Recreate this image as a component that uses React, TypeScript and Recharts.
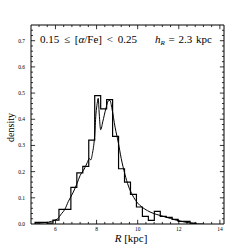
import React from "react"
import {
  ComposedChart,
  Line,
  XAxis,
  YAxis,
  ReferenceArea,
  ReferenceLine,
} from "recharts"

// histogram bins (left edges, kpc) and densities
const binEdges = [
  5.01, 5.3, 5.59, 5.88, 6.17, 6.46, 6.75, 7.04, 7.33, 7.62, 7.91, 8.2, 8.49,
  8.78, 9.07, 9.36, 9.65, 9.94, 10.23, 10.52, 10.81, 11.1, 11.39, 11.68, 11.97,
  12.26, 12.55, 12.84,
]
const binValues = [
  0.006, 0.006, 0.003, 0.015, 0.056, 0.056, 0.14, 0.195, 0.22, 0.32, 0.49, 0.44,
  0.475, 0.335, 0.211, 0.16, 0.113, 0.065, 0.029, 0.014, 0.048, 0.029, 0.025,
  0.018, 0.01, 0.01, 0.003,
]

// model curve
const modelR = [
  5.0, 5.5, 5.8, 6.1, 6.3, 6.45, 6.62, 6.87, 7.05, 7.2, 7.4, 7.55, 7.65, 7.72,
  7.8, 7.9, 7.97, 8.03, 8.08, 8.13, 8.2, 8.3, 8.45, 8.57, 8.65, 8.75, 8.9, 9.06,
  9.2, 9.38, 9.55, 9.71, 9.9, 10.11, 10.35, 10.6, 10.9, 11.25, 11.6, 11.9,
  12.25, 12.55, 12.9, 13.2,
]
const modelDensity = [
  0.003, 0.005, 0.01, 0.02, 0.04, 0.055, 0.085, 0.122, 0.155, 0.185, 0.21,
  0.235, 0.25, 0.245, 0.27, 0.33, 0.42, 0.46, 0.48, 0.42, 0.36, 0.39, 0.44,
  0.47, 0.472, 0.44, 0.37, 0.31, 0.25, 0.19, 0.145, 0.116, 0.09, 0.071, 0.057,
  0.046, 0.037, 0.029, 0.021, 0.014, 0.008, 0.004, 0.0, 0.0,
]

const xTicks = [6, 8, 10, 12, 14]
const yTicks = [0, 0.1, 0.2, 0.3, 0.4, 0.5, 0.6, 0.7]

const X_MIN = 4.81
const X_MAX = 14.2
const Y_MAX = 0.76

const histData = [
  { x: binEdges[0], y: 0 },
  ...binValues.map((v, i) => ({ x: binEdges[i], y: v })),
  { x: binEdges[binEdges.length - 1], y: binValues[binValues.length - 1] },
  { x: binEdges[binEdges.length - 1], y: 0 },
]
const modelData = modelR.map((r, i) => ({ x: r, y: modelDensity[i] }))

const xMinor: number[] = []
for (let v = 5.2; v < X_MAX; v += 0.4) xMinor.push(Math.round(v * 10) / 10)
const yMinor: number[] = []
for (let v = 0.02; v < Y_MAX; v += 0.02) yMinor.push(Math.round(v * 100) / 100)

const serif = "'Liberation Serif', 'DejaVu Serif', serif"

export default function App() {
  const tickLines: React.ReactNode[] = []
  xMinor.forEach((v, i) => {
    const major = xTicks.includes(v)
    const len = major ? 0.016 : 0.008
    tickLines.push(
      <ReferenceLine key={`xb${i}`} segment={[{ x: v, y: 0 }, { x: v, y: len }]} stroke="#000" strokeWidth={0.8} ifOverflow="visible" />,
      <ReferenceLine key={`xt${i}`} segment={[{ x: v, y: Y_MAX }, { x: v, y: Y_MAX - len }]} stroke="#000" strokeWidth={0.8} ifOverflow="visible" />
    )
  })
  yMinor.forEach((v, i) => {
    const major = Math.abs(v * 10 - Math.round(v * 10)) < 1e-6
    const len = major ? 0.2 : 0.1
    tickLines.push(
      <ReferenceLine key={`yl${i}`} segment={[{ x: X_MIN, y: v }, { x: X_MIN + len, y: v }]} stroke="#000" strokeWidth={0.8} ifOverflow="visible" />,
      <ReferenceLine key={`yr${i}`} segment={[{ x: X_MAX, y: v }, { x: X_MAX - len, y: v }]} stroke="#000" strokeWidth={0.8} ifOverflow="visible" />
    )
  })

  return (
    <div style={{ position: "absolute", left: 0, top: 0, width: 249, height: 249, background: "#fff", fontFamily: serif }}>
      <ComposedChart width={249} height={249} margin={{ top: 25, right: 25, left: 0, bottom: 0 }}>
        <XAxis
          type="number"
          dataKey="x"
          domain={[X_MIN, X_MAX]}
          ticks={xTicks}
          allowDataOverflow
          axisLine={false}
          tickLine={false}
          tickSize={0}
          tickMargin={3}
          height={25}
          tick={{ fontSize: 5.5, fill: "#000", fontFamily: serif }}
        />
        <YAxis
          type="number"
          domain={[0, Y_MAX]}
          ticks={yTicks}
          allowDataOverflow
          axisLine={false}
          tickLine={false}
          tickSize={0}
          tickMargin={6}
          width={31}
          tickFormatter={(v) => v.toFixed(1)}
          tick={{ fontSize: 5.5, fill: "#000", fontFamily: serif }}
        />
        <ReferenceArea x1={X_MIN} x2={X_MAX} y1={0} y2={Y_MAX} fill="none" stroke="#000" strokeWidth={1} ifOverflow="visible" />
        {tickLines}
        <Line data={histData} dataKey="y" type="stepAfter" stroke="#000" strokeWidth={1.2} dot={false} isAnimationActive={false} />
        <Line data={modelData} dataKey="y" type="monotone" stroke="#000" strokeWidth={1} dot={false} isAnimationActive={false} />
      </ComposedChart>
      <div style={{ position: "absolute", left: 40, top: 34, fontSize: 11, wordSpacing: 2, whiteSpace: "nowrap", lineHeight: 1 }}>
        0.15 ≤ [<i>α</i>/Fe] &lt; 0.25
      </div>
      <div style={{ position: "absolute", left: 155, top: 34, fontSize: 11, wordSpacing: 1, whiteSpace: "nowrap", lineHeight: 1 }}>
        <i>h</i><span style={{ fontSize: 7, position: "relative", top: 2 }}><i>R</i></span> = 2.3 kpc
      </div>
      <div style={{ position: "absolute", left: 0, top: 0, width: 20, height: 249, display: "flex", alignItems: "center", justifyContent: "center" }}>
        <div style={{ transform: "rotate(-90deg)", fontSize: 10, whiteSpace: "nowrap", marginTop: 6 }}>density</div>
      </div>
      <div style={{ position: "absolute", left: 31, width: 200, top: 233, textAlign: "center", fontSize: 11, whiteSpace: "nowrap", lineHeight: 1 }}>
        <i>R</i> [kpc]
      </div>
    </div>
  )
}
